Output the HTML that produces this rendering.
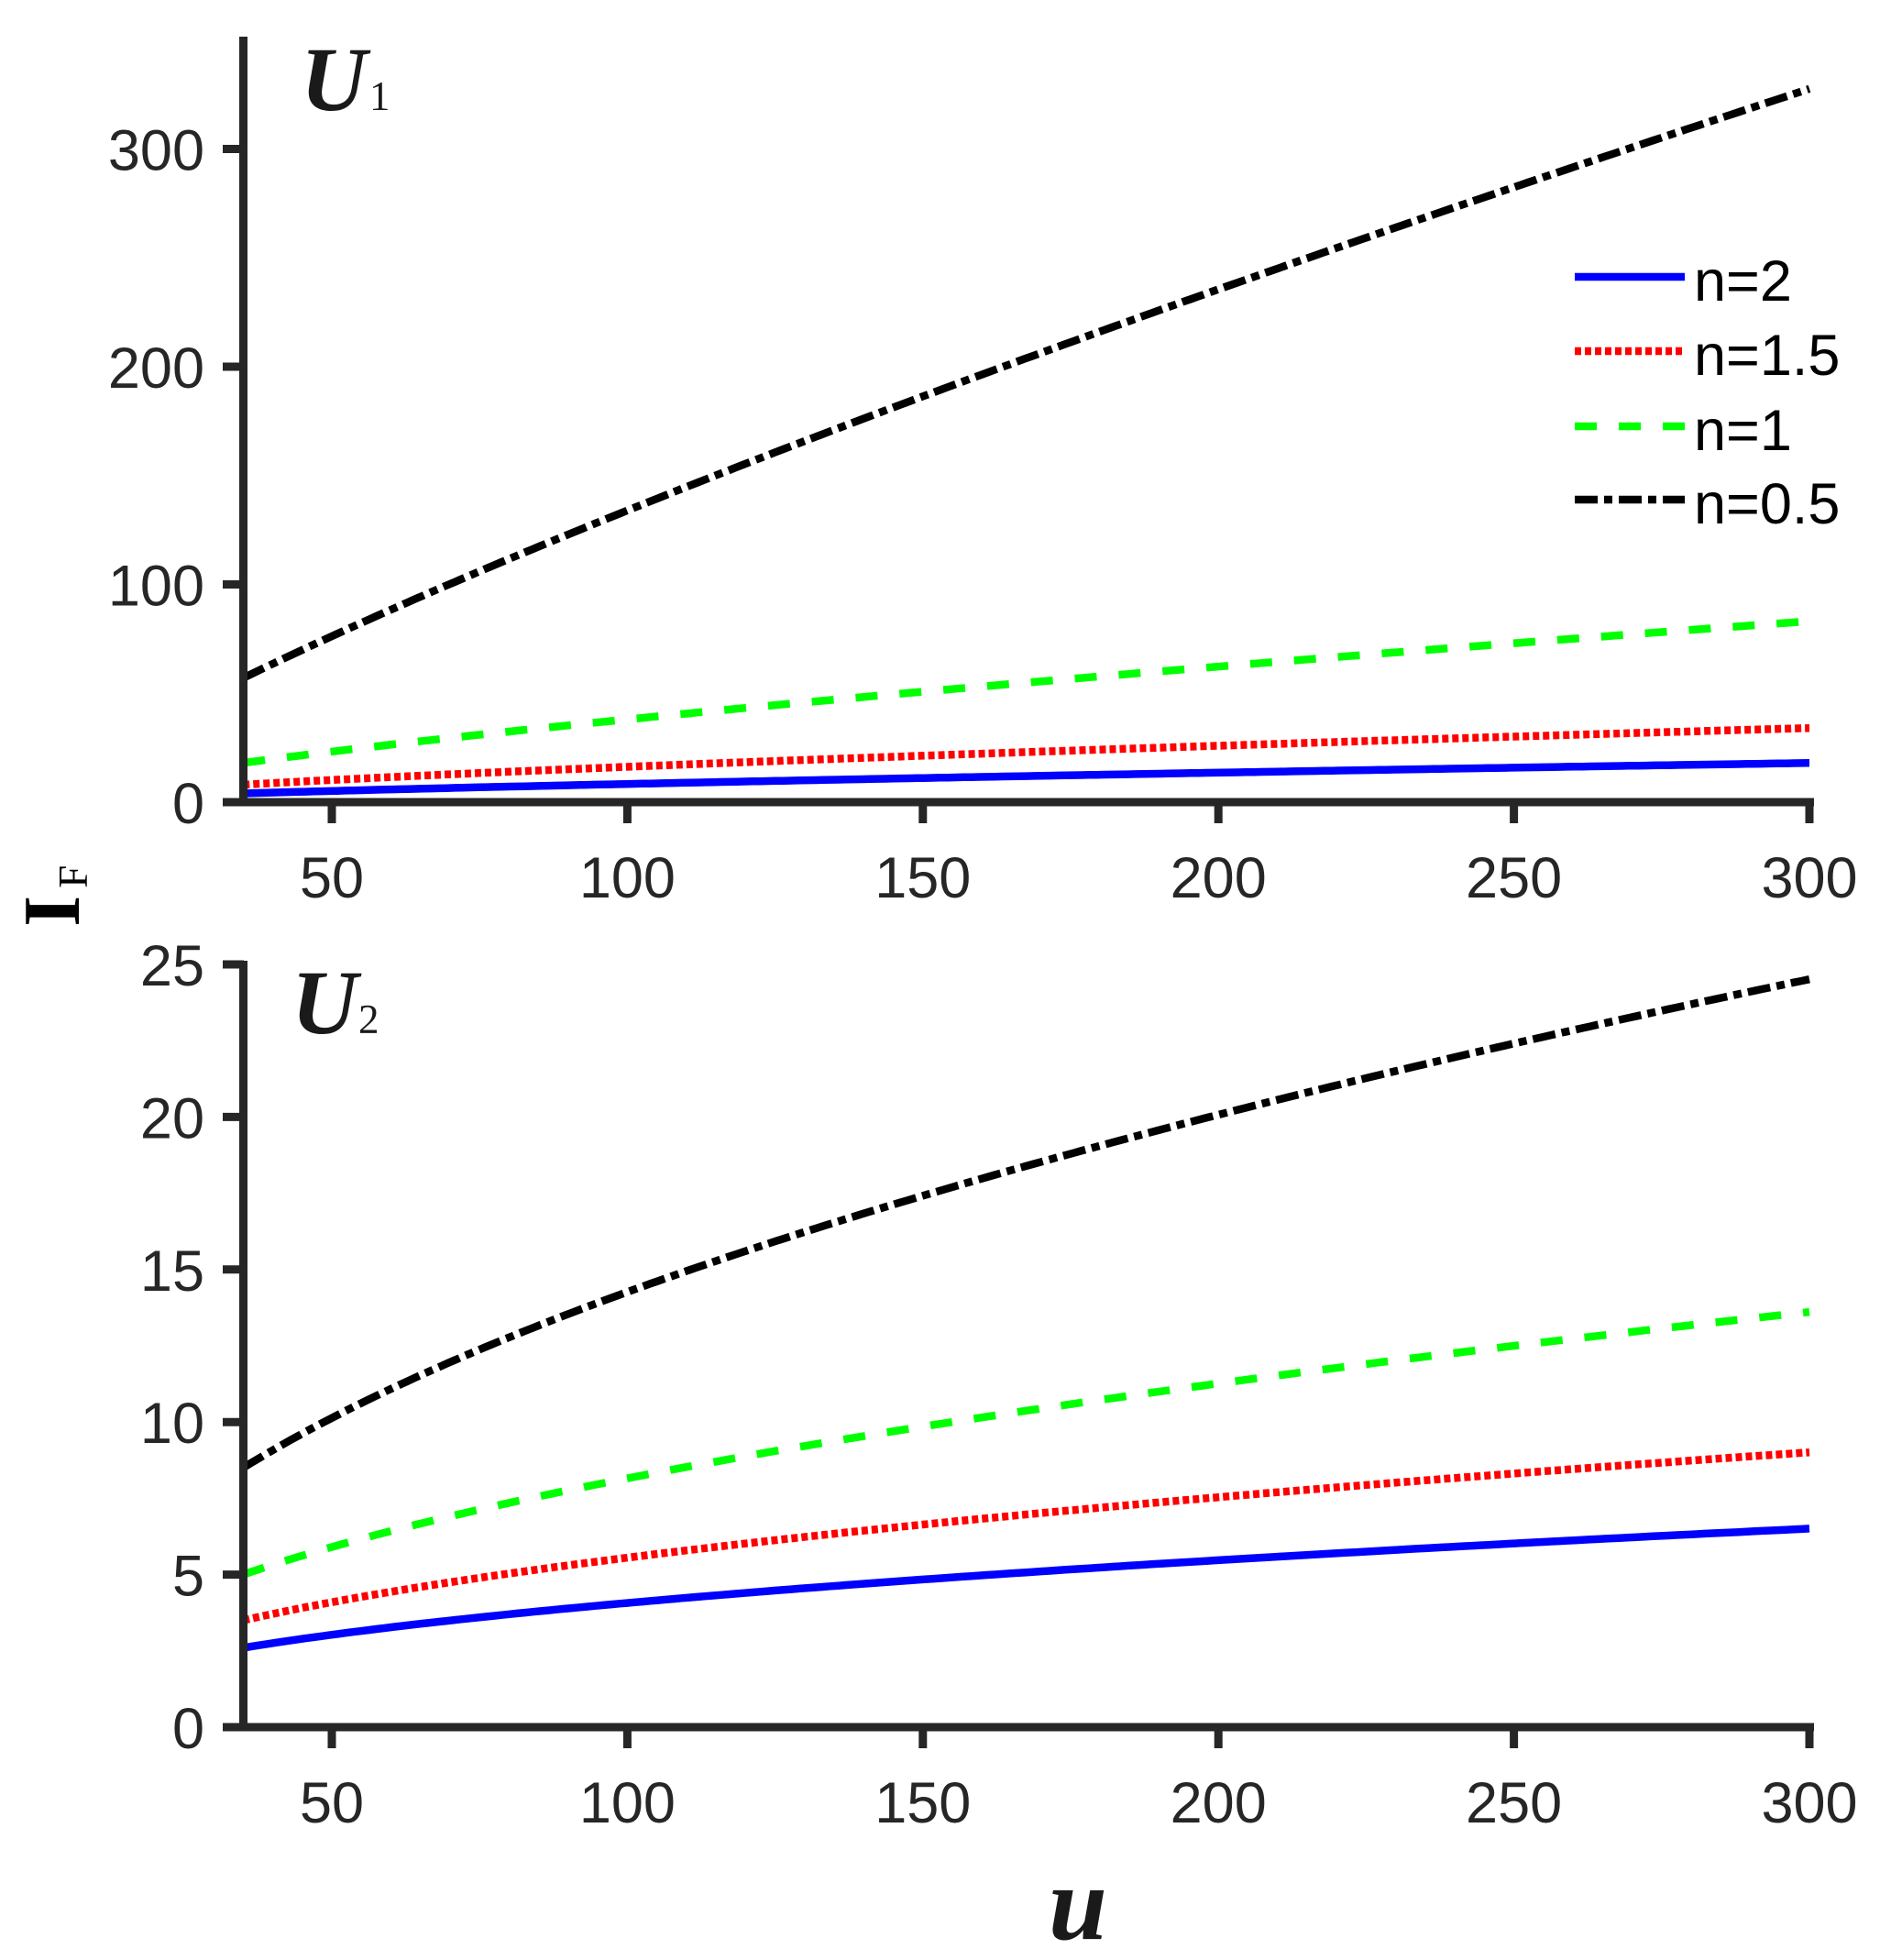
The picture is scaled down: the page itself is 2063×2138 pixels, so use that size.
<!DOCTYPE html>
<html><head><meta charset="utf-8"><style>
html,body{margin:0;padding:0;background:#fff;}
svg{display:block;}
</style></head><body>
<svg id="s" width="2063" height="2138" viewBox="0 0 2063 2138" xmlns="http://www.w3.org/2000/svg">
<rect width="2063" height="2138" fill="#fff"/>
<g id="g"></g>
</svg>
<script>
var NS="http://www.w3.org/2000/svg",g=document.getElementById('g');
function el(t,a,txt){var e=document.createElementNS(NS,t);for(var k in a)e.setAttribute(k,a[k]);if(txt!==undefined)e.textContent=txt;g.appendChild(e);return e;}
function X(u){return 362+(u-50)*(1974-362)/250;}
var styles={
 b:{stroke:'#0000ff',da:'none'},
 r:{stroke:'#ff0000',da:'7 4'},
 gr:{stroke:'#00ff00',da:'24 24'},
 k:{stroke:'#000000',da:'25 7 9 7'}
};
function curve(Y,a,b,st){var d='';for(var i=0;i<=200;i++){var u=35+265*i/200;var v=a*Math.pow(u/35,b);d+=(i?'L':'M')+X(u).toFixed(1)+' '+Y(v).toFixed(1);}
 el('path',{d:d,fill:'none',stroke:st.stroke,'stroke-width':8.5,'stroke-dasharray':st.da});}
function axes(y0,ytop,Y,ticks,xlabY){
 var c='#262626';
 el('line',{x1:265.5,y1:ytop,x2:265.5,y2:y0+4.5,stroke:c,'stroke-width':9});
 el('line',{x1:261,y1:y0,x2:1979,y2:y0,stroke:c,'stroke-width':9});
 ticks.forEach(function(t){var y=Y(t);el('line',{x1:243,y1:y,x2:266,y2:y,stroke:c,'stroke-width':9});
  el('text',{x:223,y:y+23,'text-anchor':'end','font-family':'Liberation Sans, sans-serif','font-size':63,fill:c},String(t));});
 [50,100,150,200,250,300].forEach(function(u){var x=X(u);el('line',{x1:x,y1:y0,x2:x,y2:y0+23,stroke:c,'stroke-width':9});
  el('text',{x:x,y:xlabY,'text-anchor':'middle','font-family':'Liberation Sans, sans-serif','font-size':63,fill:c},String(u));});
}
var Y1=function(v){return 875-v*2.375;};
curve(Y1,4,0.70,styles.b);curve(Y1,8,0.674,styles.r);curve(Y1,18,0.712,styles.gr);curve(Y1,57,0.814,styles.k);
axes(875,40,Y1,[0,100,200,300],979);
var Y2=function(v){return 1884-v*33.28;};
curve(Y2,2.6,0.427,styles.b);curve(Y2,3.5,0.44,styles.r);curve(Y2,5,0.466,styles.gr);curve(Y2,8.5,0.493,styles.k);
axes(1884,1048,Y2,[0,5,10,15,20,25],1988);
var L=[['b','n=2',302],['r','n=1.5',383],['gr','n=1',465],['k','n=0.5',545]];
L.forEach(function(l){var st=styles[l[0]];el('line',{x1:1718,y1:l[2],x2:1838,y2:l[2],stroke:st.stroke,'stroke-width':8.5,'stroke-dasharray':st.da});
 el('text',{x:1848,y:l[2]+26,'font-family':'Liberation Sans, sans-serif','font-size':63,fill:'#000'},l[1]);});
el('text',{x:328,y:120,'font-family':'Liberation Serif, serif','font-size':100,'font-weight':'bold','font-style':'italic',fill:'#1a1a1a'},'U');
el('text',{x:403,y:120,'font-family':'Liberation Serif, serif','font-size':45,fill:'#1a1a1a'},'1');
el('text',{x:318,y:1127,'font-family':'Liberation Serif, serif','font-size':100,'font-weight':'bold','font-style':'italic',fill:'#1a1a1a'},'U');
el('text',{x:391,y:1127,'font-family':'Liberation Serif, serif','font-size':45,fill:'#1a1a1a'},'2');
var t=el('text',{transform:'translate(86,1011) rotate(-90)','font-family':'Liberation Serif, serif',fill:'#000'});
var s1=document.createElementNS(NS,'tspan');s1.setAttribute('font-size',88);s1.setAttribute('font-weight','bold');s1.textContent='I';t.appendChild(s1);
var s2=document.createElementNS(NS,'tspan');s2.setAttribute('font-size',45);s2.setAttribute('dy',9);s2.setAttribute('dx',8);s2.textContent='F';t.appendChild(s2);
el('text',{x:1176,y:2115,'text-anchor':'middle','font-family':'Liberation Serif, serif','font-size':115,'font-weight':'bold','font-style':'italic',fill:'#1a1a1a'},'u');
</script>
</body></html>
